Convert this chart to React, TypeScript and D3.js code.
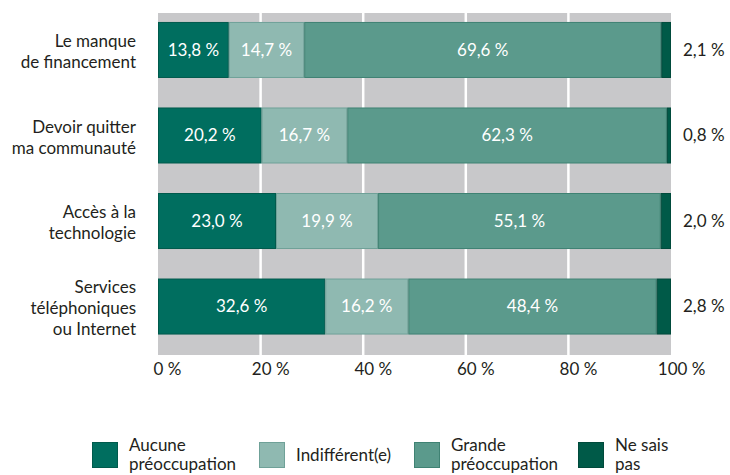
import React from 'react';
import * as d3 from 'd3';

const categories = [
  ['Le manque', 'de financement'],
  ['Devoir quitter', 'ma communauté'],
  ['Accès à la', 'technologie'],
  ['Services', 'téléphoniques', 'ou Internet'],
];
const aucune = [13.8, 20.2, 23.0, 32.6];
const indifferent = [14.7, 16.7, 19.9, 16.2];
const grande = [69.6, 62.3, 55.1, 48.4];
const neSaisPas = [2.1, 0.8, 2.0, 2.8];
const ticks = [0, 20, 40, 60, 80, 100];

const seriesNames = [['Aucune', 'préoccupation'], ['Indifférent(e)'], ['Grande', 'préoccupation'], ['Ne sais', 'pas']];
const fills = ['#006e5f', '#8fb9b1', '#5b9a8c', '#005a48'];
const strokes = ['#005a4c', '#6fa198', '#3f8273', '#004a3b'];

const fmt = (v: number) => v.toFixed(1).replace('.', ',') + ' %';
const font = 'Lato, sans-serif';
const textColor = '#231f20';
const fs = 17;

export default function App() {
  const x = d3.scaleLinear().domain([0, 100]).range([158, 671]);
  const y = d3.scaleBand<number>().domain([0, 1, 2, 3]).range([7.25, 349.25]).paddingInner(0.345).paddingOuter(0.172);
  const rows = categories.map((_, i) => ({ i, a: aucune[i], b: indifferent[i], c: grande[i], d: neSaisPas[i] }));
  const stack = d3.stack<any>().keys(['a', 'b', 'c', 'd'])(rows);
  const legendX = [92, 259, 414, 578];

  return (
    <svg width={730} height={475} style={{ position: 'absolute', left: 0, top: 0, fontFamily: font }}>
      <rect x={x(0)} y={13} width={x(100) - x(0)} height={342} fill="#c8c8ca" />
      {ticks.slice(1, -1).map(t => (
        <line key={t} x1={x(t)} x2={x(t)} y1={13} y2={355} stroke="#fff" strokeWidth={2.5} />
      ))}
      {stack.map((s, k) => (
        <g key={k}>
          {s.map((d, i) => {
            const x0 = x(d[0]);
            const x1 = Math.min(x(d[1]), x(100));
            return (
              <rect key={i} x={x0 + 0.5} y={y(i)! + 0.5} width={x1 - x0 - 1} height={y.bandwidth() - 1}
                fill={fills[k]} stroke={strokes[k]} strokeWidth={1} />
            );
          })}
        </g>
      ))}
      {stack.slice(0, 3).map((s, k) => (
        <g key={'l' + k}>
          {s.map((d, i) => (
            <text key={i} x={(x(d[0]) + x(d[1])) / 2} y={y(i)! + y.bandwidth() / 2} dy="0.35em"
              textAnchor="middle" fill="#fff" fontSize={fs}>{fmt(d[1] - d[0])}</text>
          ))}
        </g>
      ))}
      {neSaisPas.map((v, i) => (
        <text key={i} x={683} y={y(i)! + y.bandwidth() / 2} dy="0.35em" fill={textColor} fontSize={fs}>{fmt(v)}</text>
      ))}
      {categories.map((lines, i) => {
        const cy = y(i)! + y.bandwidth() / 2 + 2;
        const lh = 21;
        return (
          <text key={i} x={136} textAnchor="end" fill={textColor} fontSize={fs}>
            {lines.map((l, j) => (
              <tspan key={j} x={136} y={cy + (j - (lines.length - 1) / 2) * lh} dy="0.35em">{l}</tspan>
            ))}
          </text>
        );
      })}
      {ticks.map(t => (
        <text key={t} x={x(t) - String(t).length * 4.4} y={369} dy="0.35em" fill={textColor} fontSize={fs}>{t} %</text>
      ))}
      {seriesNames.map((lines, k) => (
        <g key={k}>
          <rect x={legendX[k] + 0.5} y={442.5} width={25} height={25} fill={fills[k]} stroke={strokes[k]} strokeWidth={1} />
          <text fill={textColor} fontSize={fs}>
            {lines.map((l, j) => (
              <tspan key={j} x={legendX[k] + 37} y={455 + (j - (lines.length - 1) / 2) * 19} dy="0.35em">{l}</tspan>
            ))}
          </text>
        </g>
      ))}
    </svg>
  );
}
